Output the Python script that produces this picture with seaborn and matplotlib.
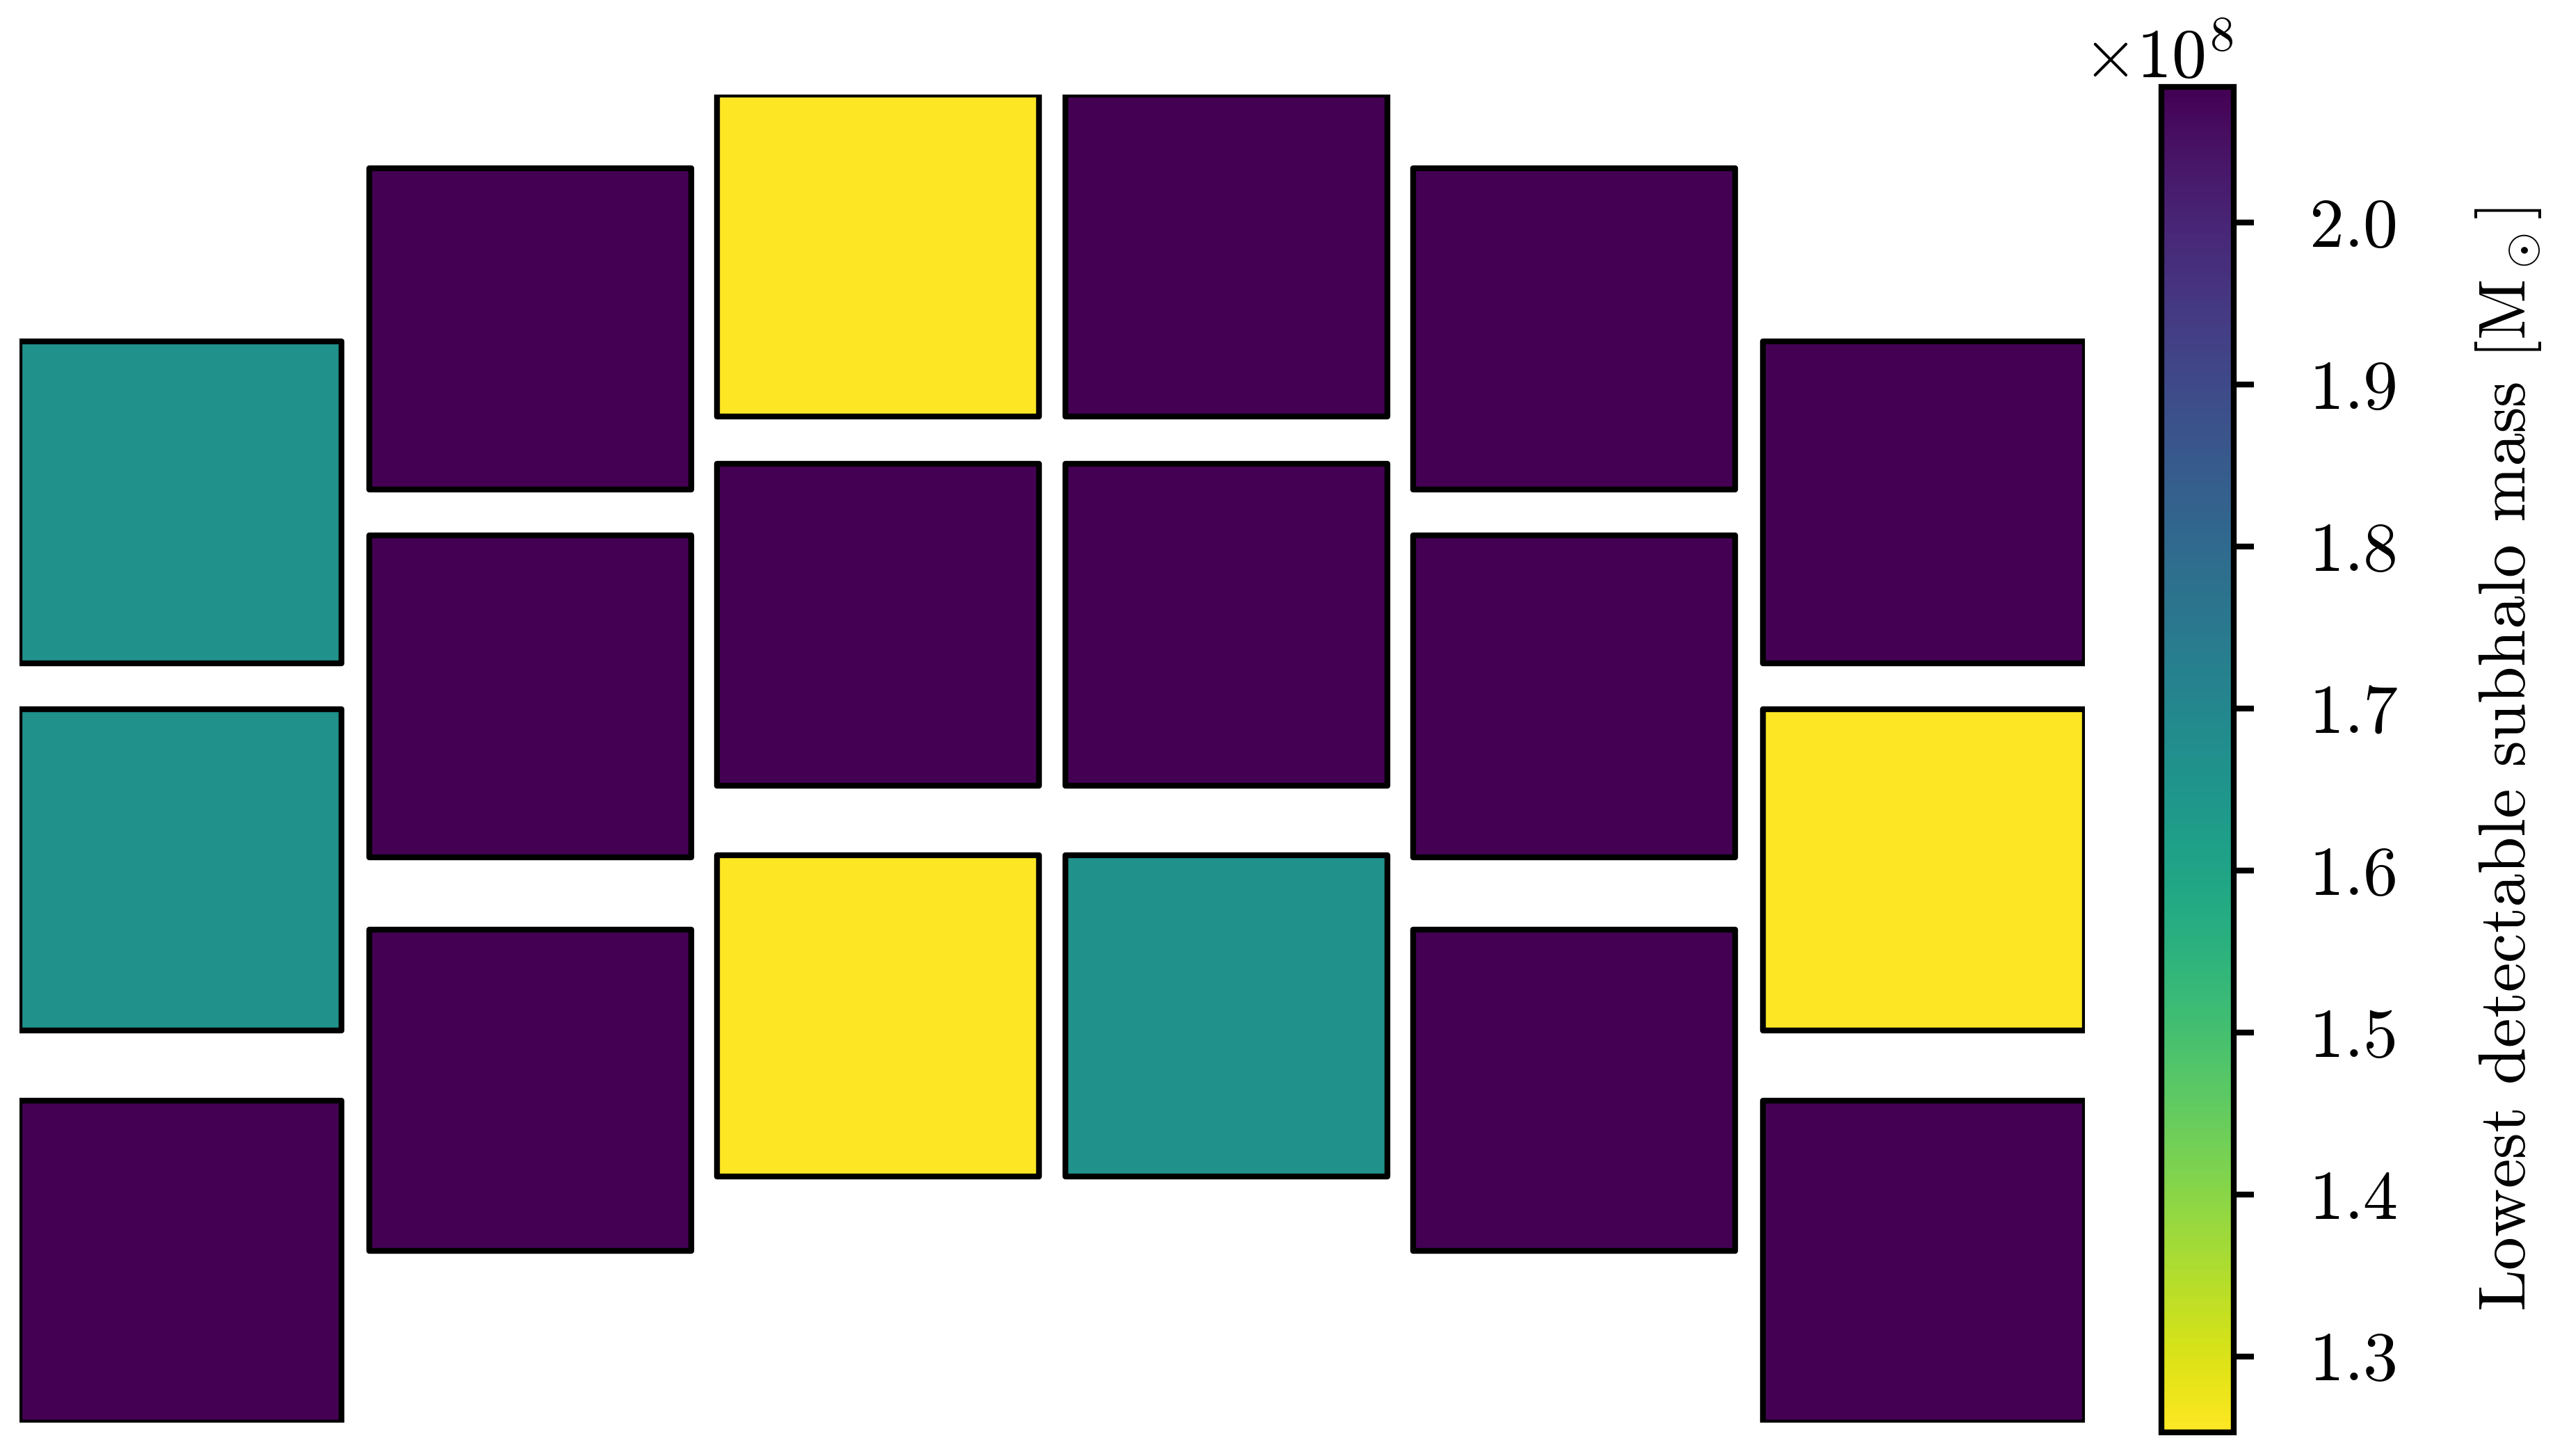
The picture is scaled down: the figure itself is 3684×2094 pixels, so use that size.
import numpy as np
import seaborn as sns
import matplotlib.pyplot as plt
from matplotlib.patches import Rectangle
from matplotlib.collections import PatchCollection

# detector centres, in units of one detector width (column by column, top to bottom)
det_x = [-2.708, -2.708, -2.708,
         -1.622, -1.622, -1.622,
         -0.541, -0.541, -0.541,
         0.541, 0.541, 0.541,
         1.622, 1.622, 1.622,
         2.708, 2.708, 2.708]
det_y = [3.007, 1.865, 0.647,
         3.546, 2.404, 1.180,
         3.774, 2.627, 1.411,
         3.774, 2.627, 1.411,
         3.546, 2.404, 1.180,
         3.007, 1.865, 0.647]
# lowest detectable subhalo mass per detector [Msun]
min_mass = [1.667e8, 1.667e8, 2.084e8,
            2.084e8, 2.084e8, 2.084e8,
            1.253e8, 2.084e8, 1.253e8,
            2.084e8, 2.084e8, 1.667e8,
            2.084e8, 2.084e8, 2.084e8,
            2.084e8, 1.253e8, 2.084e8]
det_size = 1.0

sns.set_style("ticks")
plt.rcParams["font.family"] = "serif"
plt.rcParams["font.serif"] = ["cmr10"]
plt.rcParams["mathtext.fontset"] = "cm"
plt.rcParams["axes.formatter.use_mathtext"] = True
plt.rcParams["axes.unicode_minus"] = False
for key in ["text.color", "axes.labelcolor", "axes.edgecolor", "xtick.color", "ytick.color"]:
    plt.rcParams[key] = "black"

cmap = sns.color_palette("viridis_r", as_cmap=True)

fig = plt.figure(figsize=(12.28, 6.98), dpi=300)
ax = fig.add_axes([0.0076, 0.0229, 0.8062, 0.9121])

patches = [
    Rectangle((x - det_size / 2, y - det_size / 2), det_size, det_size)
    for x, y in zip(det_x, det_y)
]
pc = PatchCollection(patches, cmap=cmap, edgecolor="black", linewidth=2)
pc.set_array(np.array(min_mass))
ax.add_collection(pc)

ax.set_xlim(min(det_x) - det_size / 2, max(det_x) + det_size / 2)
ax.set_ylim(min(det_y) - det_size / 2, max(det_y) + det_size / 2)
ax.axis("off")

cax = fig.add_axes([0.8436, 0.0162, 0.0282, 0.9243])
cbar = fig.colorbar(pc, cax=cax)
cbar.outline.set_linewidth(2)
cbar.outline.set_edgecolor("black")
cbar.ax.tick_params(length=7, width=2, labelsize=24, pad=19, direction="out", color="black")
cbar.ax.yaxis.get_offset_text().set_fontsize(24)
cbar.set_label(r"Lowest detectable subhalo mass [M$_\odot$]", fontsize=23, labelpad=26)

fig.savefig("out.png", dpi=300)
